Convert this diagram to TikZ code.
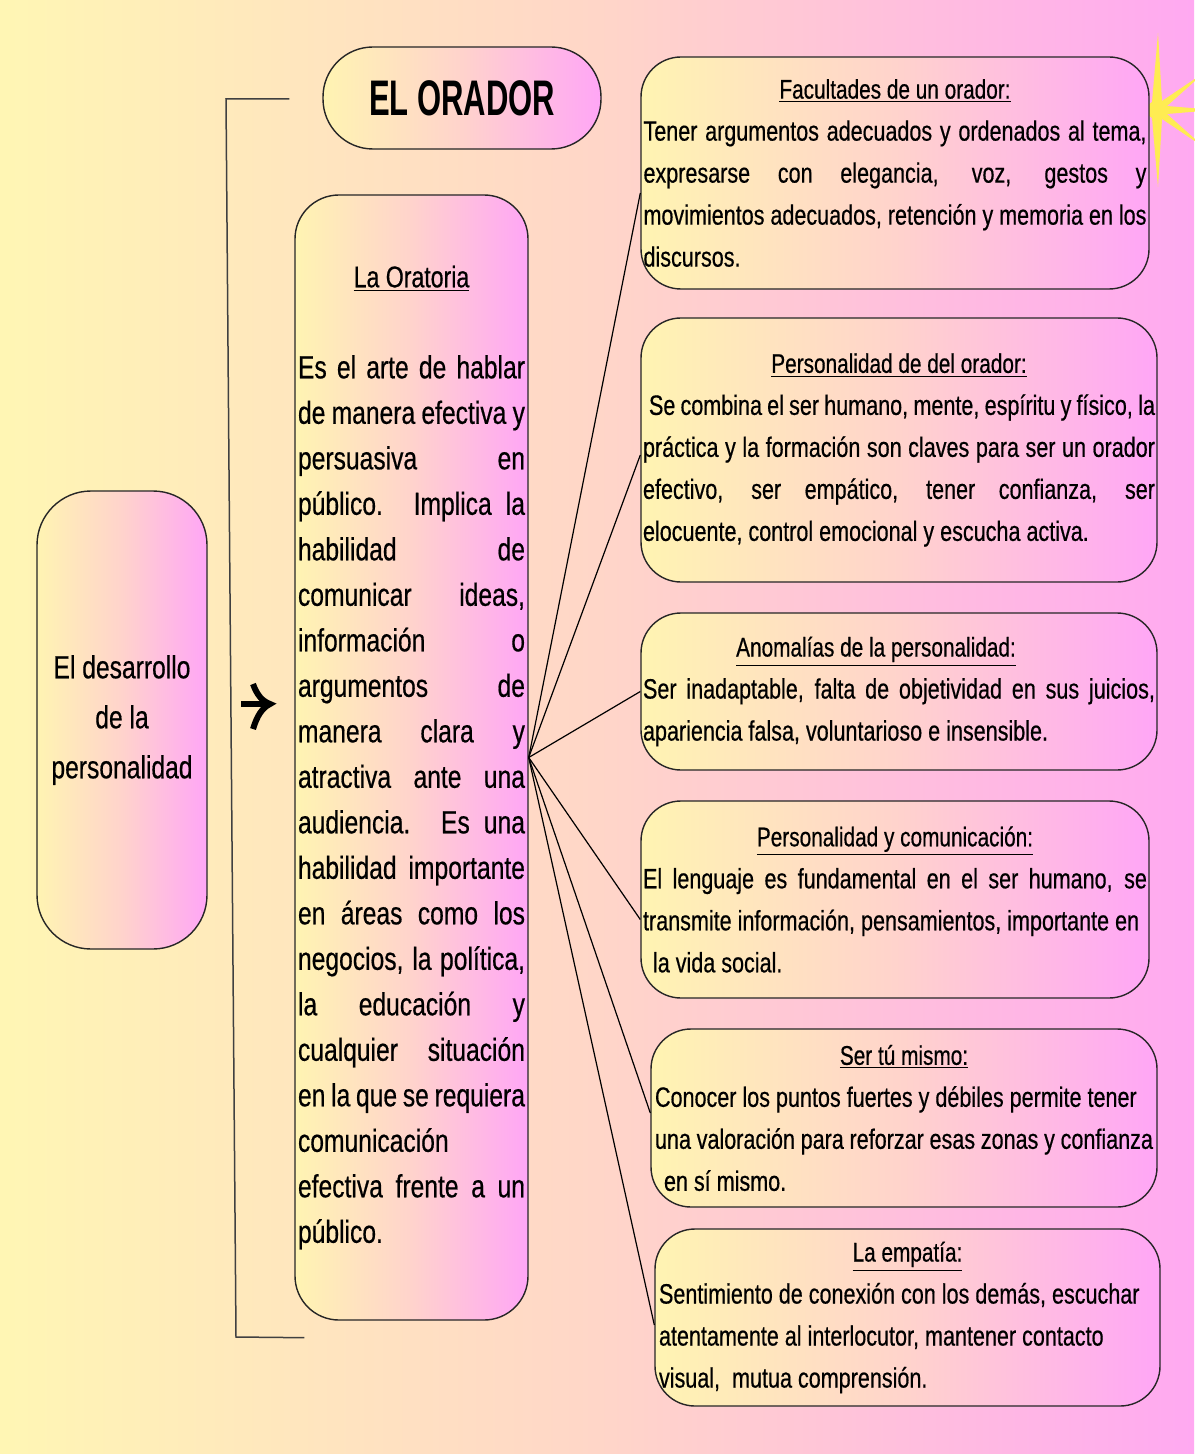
\documentclass[tikz,border=0pt]{standalone}
\usepackage{fontspec}
\setmainfont{Liberation Sans}[FakeStretch=0.77, FakeBold=0.5]
\newfontfamily\titlefont{Liberation Sans}[FakeStretch=0.62]
\usetikzlibrary{calc}

\definecolor{bgyellow}{HTML}{FFF6B4}
\definecolor{bgpeach}{HTML}{FFD6C8}
\definecolor{bgpink}{HTML}{FFA9F1}
\definecolor{cardyellow}{HTML}{FFF4B2}
\definecolor{cardpeach}{HTML}{FFD3CC}
\definecolor{cardpink}{HTML}{FFA6F6}
\definecolor{staryellow}{HTML}{FFEC52}

\newcommand{\jl}[1]{\makebox[\linewidth][s]{\spaceskip=0pt\xspaceskip=0pt #1}}
\newcommand{\ctitle}[1]{\makebox[\linewidth]{\fontsize{13.5}{21}\selectfont\underline{#1}}}

\begin{document}
\begin{tikzpicture}[x=0.5pt,y=-0.5pt]
    \tikzset{card/.style={draw=black!85, line width=0.7pt, rounded corners=20pt,
        left color=cardyellow, right color=cardpink, middle color=cardpeach,
        inner xsep=1pt, inner ysep=0pt, align=justify}}
    \tikzset{body/.style={font=\fontsize{14}{21}\selectfont}}
    \tikzset{link/.style={draw=black, line width=0.6pt}}
    \tikzset{bracket/.style={draw=black!75, line width=0.75pt}}

    \useasboundingbox (0,0) rectangle (1194,1454);
    \fill[left color=bgyellow, right color=bgpink, middle color=bgpeach] (0,0) rectangle (1194,1454);

    % star behind the first card
    \fill[staryellow] (1158,33) -- (1162,101) -- (1205,72) -- (1167,106) -- (1215,110)
        -- (1167,114) -- (1205,148) -- (1162,119) -- (1158,187) -- (1152,118)
        -- (1142,110) -- (1152,102) -- cycle;

    \node[card, rounded corners=25pt, minimum width=139pt, minimum height=51pt, align=center,
        font=\titlefont\bfseries\fontsize{25}{30}\selectfont] (orador) at (462,98) {EL ORADOR};

    \node[card, rounded corners=27pt, minimum width=85pt, minimum height=229pt, align=center,
        font=\fontsize{16}{25}\selectfont] (desarrollo) at (122,720)
        {El desarrollo\\de la\\personalidad};

    \node[card, rounded corners=22pt, minimum width=116.5pt, minimum height=562.5pt,
        text width=113.5pt, font=\fontsize{16}{22.75}\selectfont] (oratoria) at (411.5,757.5) {%
        \makebox[\linewidth]{\fontsize{15}{22.75}\selectfont\underline{La Oratoria}}\\[22.75pt]
        \jl{Es el arte de hablar}\\
        \jl{de manera efectiva y}\\
        \jl{persuasiva en}\\
        \jl{público. Implica la}\\
        \jl{habilidad de}\\
        \jl{comunicar ideas,}\\
        \jl{información o}\\
        \jl{argumentos de}\\
        \jl{manera clara y}\\
        \jl{atractiva ante una}\\
        \jl{audiencia. Es una}\\
        \jl{habilidad importante}\\
        \jl{en áreas como los}\\
        \jl{negocios, la política,}\\
        \jl{la educación y}\\
        \jl{cualquier situación}\\
        \jl{en la que se requiera}\\
        comunicación\\
        \jl{efectiva frente a un}\\
        público.};

    \node[card, body, minimum width=254pt, minimum height=116pt, text width=251.5pt] (facultades) at (895,173) {%
        \ctitle{Facultades de un orador:}\\
        \jl{Tener argumentos adecuados y ordenados al tema,}\\
        \jl{expresarse con elegancia, voz, gestos y}\\
        \jl{movimientos adecuados, retención y memoria en los}\\
        discursos.};

    \node[card, body, minimum width=258pt, minimum height=132pt, text width=256pt] (personalidad) at (899,450) {%
        \ctitle{Personalidad de del orador:}\\
        \jl{\hspace*{3pt}Se combina el ser humano, mente, espíritu y físico, la}\\
        \jl{práctica y la formación son claves para ser un orador}\\
        \jl{efectivo, ser empático, tener confianza, ser}\\
        elocuente, control emocional y escucha activa.};

    \node[card, body, minimum width=258pt, minimum height=78.5pt, text width=256pt] (anomalias) at (899,691.5) {%
        \makebox[\linewidth]{\fontsize{13.5}{21}\selectfont\underline{Anomalías de la personalidad:}\hspace*{23pt}}\\
        \jl{Ser inadaptable, falta de objetividad en sus juicios,}\\
        apariencia falsa, voluntarioso e insensible.};

    \node[card, body, minimum width=254pt, minimum height=98.5pt, text width=252pt] (comunicacion) at (895,899.5) {%
        \ctitle{Personalidad y comunicación:}\\
        \jl{El lenguaje es fundamental en el ser humano, se}\\
        transmite información, pensamientos, importante en\\
        \hspace*{5pt}la vida social.};

    \node[card, body, minimum width=253pt, minimum height=89pt, text width=249pt] (mismo) at (904,1118) {%
        \ctitle{Ser tú mismo:}\\
        Conocer los puntos fuertes y débiles permite tener\\
        una valoración para reforzar esas zonas y confianza\\
        \hspace*{4.5pt}en sí mismo.};

    \node[card, body, minimum width=252.5pt, minimum height=88.5pt, text width=248.5pt] (empatia) at (907.5,1317.5) {%
        \ctitle{La empatía:}\\
        Sentimiento de conexión con los demás, escuchar\\
        atentamente al interlocutor, mantener contacto\\
        visual,\ \ mutua comprensión.};

    \coordinate (hub) at (oratoria.east);
    \draw[link] (hub) -- ([yshift=-10pt]facultades.west);
    \draw[link] (hub) -- ([yshift=-2.5pt]personalidad.west);
    \draw[link] (hub) -- (anomalias.west);
    \draw[link] (hub) -- ([yshift=-10pt]comunicacion.west);
    \draw[link] (hub) -- ([yshift=2.5pt]mismo.west);
    \draw[link] (hub) -- ([yshift=-3.75pt]empatia.west);

    \coordinate (brtop) at ($(orador.west)+(-33,1)$);
    \coordinate (brbot) at ($(oratoria.south west)+(10,17)$);
    \draw[bracket] (brtop) -- (226,99) -- (236,1337) -- (brbot);

    % arrow between bracket and oratoria
    \draw[line width=3pt] (241,704) -- (266,704);
    \draw[line width=3pt] (253,684) .. controls (257,695) and (262,701) .. (270,704)
        .. controls (262,708) and (257,716) .. (253,729);
\end{tikzpicture}
\end{document}
